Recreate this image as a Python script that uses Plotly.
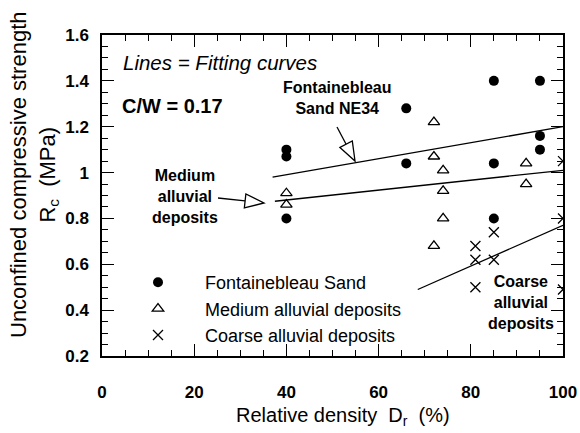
import math
import plotly.graph_objects as go

# ---------------- data ----------------
fs_x = [40, 40, 40, 66, 66, 85, 85, 85, 95, 95, 95]
fs_y = [1.10, 1.07, 0.80, 1.28, 1.04, 1.40, 1.04, 0.80, 1.40, 1.16, 1.10]

med_x = [40, 40, 72, 72, 72, 74, 74, 74, 92, 92]
med_y = [0.91, 0.86, 1.22, 1.07, 0.68, 1.01, 0.92, 0.80, 1.04, 0.95]

coarse_x = [81, 81, 81, 85, 85, 100, 100, 100]
coarse_y = [0.68, 0.62, 0.50, 0.74, 0.62, 1.05, 0.80, 0.49]

fit_fs_x = [37, 100]
fit_fs_y = [0.98, 1.20]
fit_med_x = [37.5, 100]
fit_med_y = [0.875, 1.01]
fit_coarse_x = [68.5, 100]
fit_coarse_y = [0.49, 0.77]

x_ticks = [0, 20, 40, 60, 80, 100]
y_ticks = [0.2, 0.4, 0.6, 0.8, 1.0, 1.2, 1.4, 1.6]

# ---------------- layout geometry ----------------
W, H = 580, 433
ML, MR, MT, MB = 102, 17, 35, 77
PW, PH = W - ML - MR, H - MT - MB
XR = [0, 100]
YR = [0.2, 1.6]
FONT = "Liberation Sans, Arial, sans-serif"


def px2x(px):
    return XR[0] + (px - ML) / PW * (XR[1] - XR[0])


def py2y(py):
    return YR[1] - (py - MT) / PH * (YR[1] - YR[0])


fig = go.Figure()

fig.add_trace(go.Scatter(x=fs_x, y=fs_y, mode="markers", name="Fontainebleau Sand",
                         marker=dict(symbol="circle", size=10, color="black")))
fig.add_trace(go.Scatter(x=med_x, y=med_y, mode="markers", name="Medium alluvial deposits",
                         marker=dict(symbol="triangle-up-open", size=10, color="black",
                                     line=dict(width=1.3, color="black"))))
fig.add_trace(go.Scatter(x=coarse_x, y=coarse_y, mode="markers", name="Coarse alluvial deposits",
                         marker=dict(symbol="x-thin-open", size=10, color="black",
                                     line=dict(width=1.3, color="black"))))
for fx, fy in [(fit_fs_x, fit_fs_y), (fit_med_x, fit_med_y), (fit_coarse_x, fit_coarse_y)]:
    fig.add_trace(go.Scatter(x=fx, y=fy, mode="lines", showlegend=False,
                             line=dict(color="black", width=1.3), hoverinfo="skip"))

# ---------------- hollow arrows ----------------
shapes = []


def hollow_arrow(tail, tip, L=19, Wd=7):
    tx, ty = tail
    hx, hy = tip
    dx, dy = hx - tx, hy - ty
    n = math.hypot(dx, dy)
    ux, uy = dx / n, dy / n
    bx, by = hx - ux * L, hy - uy * L
    nx, ny = -uy, ux
    c1 = (bx + nx * Wd, by + ny * Wd)
    c2 = (bx - nx * Wd, by - ny * Wd)
    shapes.append(dict(type="line", xref="x", yref="y",
                       x0=px2x(tx), y0=py2y(ty), x1=px2x(bx), y1=py2y(by),
                       line=dict(color="black", width=1.3)))
    path = "M {:.4f},{:.4f} L {:.4f},{:.4f} L {:.4f},{:.4f} Z".format(
        px2x(c1[0]), py2y(c1[1]), px2x(hx), py2y(hy), px2x(c2[0]), py2y(c2[1]))
    shapes.append(dict(type="path", xref="x", yref="y", path=path,
                       line=dict(color="black", width=1.3), fillcolor="white"))


hollow_arrow((337, 127), (355, 161))
hollow_arrow((218, 198), (264, 203))

# ---------------- annotations ----------------
ann = []


def txt(px, py, text, size=16, bold=True, italic=False, xanchor="center", align="center"):
    ann.append(dict(x=px2x(px), y=py2y(py), xref="x", yref="y", text=text, showarrow=False,
                    xanchor=xanchor, yanchor="middle", align=align,
                    font=dict(family=FONT, size=size, color="black",
                              weight="bold" if bold else "normal",
                              style="italic" if italic else "normal")))


txt(121, 62, "Lines = Fitting curves", size=20.5, bold=False, italic=True, xanchor="left")
txt(120, 106, "C/W = 0.17", size=20, bold=True, xanchor="left")
txt(337, 98, "Fontainebleau<br>Sand NE34", size=16)
txt(185, 196, "Medium<br>alluvial<br>deposits", size=16)
txt(521, 302, "Coarse<br>alluvial<br>deposits", size=16)

# axis titles as annotations
ann.append(dict(x=(34 - ML) / PW, y=(H - MB - 175) / PH, xref="paper", yref="paper",
                text="Unconfined compressive strength<br>R<sub>c</sub>  (MPa)",
                textangle=-90, showarrow=False, xanchor="center", yanchor="middle",
                font=dict(family=FONT, size=22, color="black")))
ann.append(dict(x=(343 - ML) / PW, y=(H - MB - 417) / PH, xref="paper", yref="paper",
                text="Relative density  D<sub>r</sub>  (%)", showarrow=False,
                xanchor="center", yanchor="middle",
                font=dict(family=FONT, size=20, color="black")))

axis_common = dict(showline=True, linecolor="black", linewidth=1.5, mirror="allticks",
                   ticks="inside", ticklen=12, tickwidth=1.3, tickcolor="black",
                   showgrid=False, zeroline=False, automargin=False,
                   tickfont=dict(family=FONT, size=17, color="black", weight="bold"))

fig.update_layout(
    width=W, height=H,
    margin=dict(l=ML, r=MR, t=MT, b=MB, autoexpand=False),
    paper_bgcolor="white", plot_bgcolor="white",
    font=dict(family=FONT, color="black"),
    xaxis=dict(range=XR, tickvals=x_ticks, ticklabelstandoff=20,
               minor=dict(dtick=5, ticks="inside", ticklen=6, tickwidth=1.2, tickcolor="black"),
               **axis_common),
    yaxis=dict(range=YR, tickvals=y_ticks, ticklabelstandoff=8,
               minor=dict(dtick=0.05, ticks="inside", ticklen=6, tickwidth=1.2, tickcolor="black"),
               **axis_common),
    legend=dict(x=(111 - ML) / PW, y=(H - MB - 264) / PH, xanchor="left", yanchor="top",
                bgcolor="rgba(0,0,0,0)", font=dict(family=FONT, size=18, color="black"),
                tracegroupgap=0, itemwidth=84),
    shapes=shapes,
    annotations=ann,
    showlegend=True,
)
fig.update_yaxes(tickformat="~g")

fig.write_html("out.html")
